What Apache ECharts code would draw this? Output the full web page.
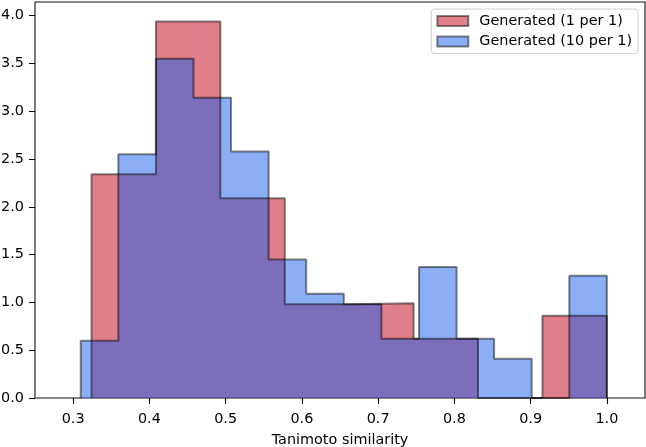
<!DOCTYPE html>
<html>
<head>
<meta charset="utf-8">
<script src="https://cdn.jsdelivr.net/npm/echarts@6/dist/echarts.min.js"></script>
<style>
html,body{margin:0;padding:0;background:#fff;}
#chart{width:646px;height:447px;}
</style>
</head>
<body>
<div id="chart"></div>
<script>
// Histogram bin edges and densities
var redName = 'Generated (1 per 1)';
var redEdges = [0.3241, 0.4086, 0.4931, 0.5776, 0.6621, 0.7466, 0.8310, 0.9155, 1.0];
var redDensity = [2.34, 3.94, 2.09, 0.98, 0.99, 0.62, 0, 0.86];

var blueName = 'Generated (10 per 1)';
var blueEdges = [0.31, 0.3593, 0.4086, 0.4579, 0.5071, 0.5564, 0.6057, 0.6550, 0.7043, 0.7536, 0.8029, 0.8521, 0.9014, 0.9507, 1.0];
var blueDensity = [0.60, 2.55, 3.55, 3.14, 2.58, 1.45, 1.09, 0.98, 0.62, 1.37, 0.62, 0.41, 0, 1.28];

var xTicks = [0.3, 0.4, 0.5, 0.6, 0.7, 0.8, 0.9, 1.0];
var yTicks = [0, 0.5, 1.0, 1.5, 2.0, 2.5, 3.0, 3.5, 4.0];
var xLabel = 'Tanimoto similarity';

var redFill = 'rgba(189,0,22,0.5)';
var blueFill = 'rgba(25,93,235,0.5)';
var edgeColor = 'rgba(0,0,0,0.47)';

// stepfilled outline: (e0,0) (e0,h0) (e1,h0) (e1,h1) ... (en,h_last) (en,0)
function outline(edges, dens) {
  var pts = [[edges[0], 0]];
  for (var i = 0; i < dens.length; i++) {
    pts.push([edges[i], dens[i]]);
    pts.push([edges[i + 1], dens[i]]);
  }
  pts.push([edges[edges.length - 1], 0]);
  return pts;
}

var font = 'DejaVu Sans';
var fs = 14.4;
var chart = echarts.init(document.getElementById('chart'), null, { renderer: 'canvas' });
chart.setOption({
  animation: false,
  backgroundColor: '#ffffff',
  grid: { left: 35, right: 1, top: 2, bottom: 49, outerBoundsMode: 'none', containLabel: false,
          show: true, borderColor: '#111', borderWidth: 1.1, backgroundColor: 'transparent' },
  legend: {
    orient: 'vertical',
    right: 8, top: 9,
    padding: [5, 6, 5, 5],
    itemWidth: 31, itemHeight: 10, itemGap: 6.5,
    backgroundColor: 'rgba(255,255,255,0.8)',
    borderColor: '#d0d0d0', borderWidth: 1, borderRadius: 3,
    textStyle: { fontFamily: font, fontSize: fs, color: '#000', padding: [0, 0, 0, 6] },
    data: [
      { name: redName, icon: 'rect', itemStyle: { color: redFill, borderColor: edgeColor, borderWidth: 2 } },
      { name: blueName, icon: 'rect', itemStyle: { color: blueFill, borderColor: edgeColor, borderWidth: 2 } }
    ]
  },
  xAxis: {
    type: 'value', min: 0.25, max: 1.05,
    name: xLabel, nameLocation: 'middle', nameGap: 35,
    nameTextStyle: { fontFamily: font, fontSize: fs, color: '#000' },
    axisLine: { show: false },
    splitLine: { show: false },
    axisTick: { show: true, length: 6, customValues: xTicks, lineStyle: { color: '#000', width: 1.1 } },
    axisLabel: { customValues: xTicks, margin: 14, fontFamily: font, fontSize: fs, color: '#000', formatter: function (v) { return v.toFixed(1); } }
  },
  yAxis: {
    type: 'value', min: 0, max: 4.143,
    axisLine: { show: false },
    splitLine: { show: false },
    axisTick: { show: true, length: 6, customValues: yTicks, lineStyle: { color: '#000', width: 1.1 } },
    axisLabel: { customValues: yTicks, margin: 11, fontFamily: font, fontSize: fs, color: '#000', formatter: function (v) { return v.toFixed(1); } }
  },
  series: [
    { name: redName, type: 'line', data: outline(redEdges, redDensity), showSymbol: false, symbol: 'none',
      lineStyle: { color: edgeColor, width: 2 }, itemStyle: { color: redFill },
      areaStyle: { color: redFill, opacity: 1, origin: 0 }, clip: true },
    { name: blueName, type: 'line', data: outline(blueEdges, blueDensity), showSymbol: false, symbol: 'none',
      lineStyle: { color: edgeColor, width: 2 }, itemStyle: { color: blueFill },
      areaStyle: { color: blueFill, opacity: 1, origin: 0 }, clip: true }
  ]
});
</script>
</body>
</html>
